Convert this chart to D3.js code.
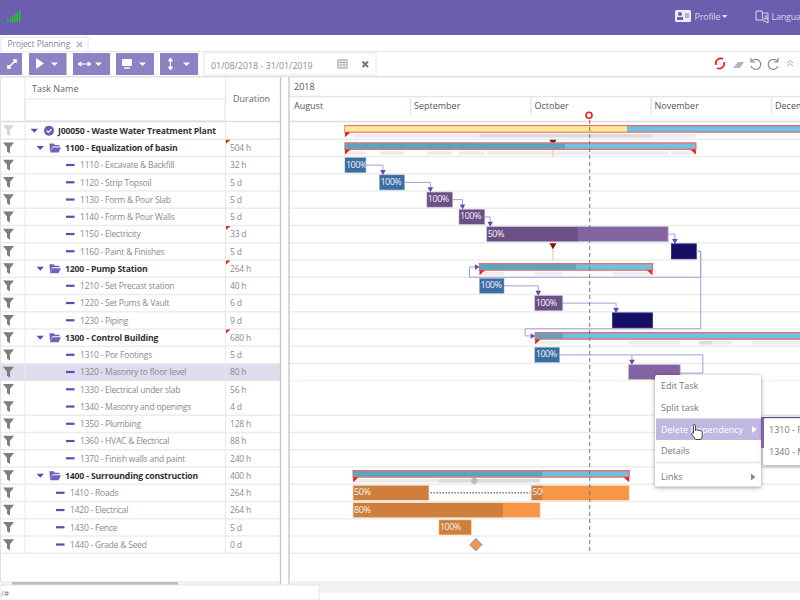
<!DOCTYPE html>
<html>
<head>
<meta charset="utf-8">
<style>
  body { margin: 0; background: #fff; overflow: hidden; }
  text { font-family: "Open Sans", sans-serif; }
</style>
<script src="https://cdn.jsdelivr.net/npm/d3@7"></script>
</head>
<body>
<div id="gantt"></div>
<script>
// Data (days are counted from 1 August 2018)
// ================================
const rowCodes = ["J00050", "1100", "1110", "1120", "1130", "1140", "1150", "1160",
  "1200", "1210", "1220", "1230", "1300", "1310", "1320", "1330", "1340", "1350",
  "1360", "1370", "1400", "1410", "1420", "1430", "1440"];
const rowNames = ["Waste Water Treatment Plant", "Equalization of basin", "Excavate & Backfill",
  "Strip Topsoil", "Form & Pour Slab", "Form & Pour Walls", "Electricity", "Paint & Finishes",
  "Pump Station", "Set Precast station", "Set Pums & Vault", "Piping", "Control Building",
  "Por Footings", "Masonry to floor level", "Electrical under slab", "Masonry and openings",
  "Plumbing", "HVAC & Electrical", "Finish walls and paint", "Surrounding construction",
  "Roads", "Electrical", "Fence", "Grade & Seed"];
const rowDurations = ["", "504 h", "32 h", "5 d", "5 d", "5 d", "33 d", "5 d", "264 h", "40 h",
  "6 d", "9 d", "680 h", "5 d", "80 h", "56 h", "4 d", "128 h", "88 h", "240 h", "400 h",
  "264 h", "264 h", "5 d", "0 d"];
const flaggedDurations = ["1100", "1150", "1200", "1300"];

const monthNames = ["August", "September", "October", "November", "December"];
const monthStarts = [0, 31, 61, 92, 122];

// task bars, the 1410 task is split in two pieces
const barCodes = ["1110", "1120", "1130", "1140", "1150", "1160", "1210", "1220", "1230",
  "1310", "1320", "1410", "1410", "1420", "1430"];
const barStarts = [14.2, 23.1, 35.2, 43.2, 50.1, 97.2, 48.3, 62.1, 82.2, 62.1, 86.3, 16.3, 61.2, 16.3, 38.2];
const barEnds = [19.6, 29.6, 41.6, 49.6, 96.4, 103.4, 54.4, 69.3, 92.5, 68.5, 99.4, 35.7, 86.5, 63.5, 46.3];
const barDone = [19.6, 29.6, 41.6, 49.6, 73.3, 97.2, 54.4, 69.3, 82.2, 68.5, 86.3, 35.7, 64.2, 54.2, 46.3];
const barLabels = ["100%", "100%", "100%", "100%", "50%", "", "100%", "100%", "", "100%", "", "50%", "50%", "80%", "100%"];

// summary bars
const summaryCodes = ["J00050", "1100", "1200", "1300", "1400"];
const summaryStarts = [14.2, 14.2, 48.3, 62.2, 16.3];
const summaryEnds = [140, 103.3, 92.5, 140, 86.5];
const summaryDone = [85.9, 69.9, 72.7, 69.4, 64];

// grey plan bands under the summary bars
const bandCodes = ["J00050", "J00050", "1100", "1100", "1100", "1100", "1100", "1100",
  "1200", "1200", "1200", "1300", "1300", "1300", "1300", "1300", "1400", "1400"];
const bandStarts = [16.3, 48.3, 14.2, 23.1, 35.2, 43.2, 50.1, 97.2, 48.3, 62.1, 82.2, 62.1, 86.3, 104.1, 104.1, 117.2, 16.3, 38.2];
const bandEnds = [103.3, 92.5, 19.6, 29.6, 41.6, 49.6, 96.4, 103.4, 54.4, 69.3, 92.5, 68.5, 99.4, 107.3, 112.3, 140, 63.5, 63.5];

// links between tasks
const linkFrom = ["1110", "1120", "1130", "1140", "1150", "1210", "1220", "1310"];
const linkTo = ["1120", "1130", "1140", "1150", "1160", "1220", "1230", "1320"];

const todayDay = 76.3;
const deadlineDay = 66.8;
const deadlineRows = ["1100", "1160"];
const milestoneCode = "1440";
const milestoneDay = 47.4;
const menuItems = ["Edit Task", "Split task", "Delete Dependency", "Details", "Links"];
const subMenuItems = ["1310 - R", "1340 - M"];

// Set up page
// ================================
const svg = d3.select("#gantt")
  .append("svg")
  .attr("width", 800)
  .attr("height", 600)
  .style("display", "block");

const defs = svg.append("defs");
defs.append("clipPath").attr("id", "chartClip")
  .append("rect").attr("x", 290).attr("y", 90).attr("width", 510).attr("height", 470);

// Create scaling
// ================================
const xScale = d3.scaleLinear()
  .domain([0, 31, 61, 92, 122, 153])
  .range([290, 410, 530.5, 650.5, 771, 891]);

const yScale = d3.scaleBand()
  .domain(rowCodes)
  .range([122, 553.25]);

const rowMid = code => yScale(code) + yScale.bandwidth() / 2;

const depthOf = code => code === "J00050" ? 0 : summaryCodes.includes(code) ? 1 : code[1] === "4" ? 2 : 3;

// Styles per task
const taskColors = {
  blue: { done: "#3c6ea3", todo: "#3c6ea3", edge: "#a9bfd8" },
  purple: { done: "#6b5086", todo: "#8364a3", edge: "#c9bcd8" },
  navy: { done: "#150f66", todo: "#150f66", edge: "#2b2680" },
  orange: { done: "#cf7f3b", todo: "#f79646", edge: "#f4dcc5" }
};
const colorOf = code => {
  if (code[1] === "4") return taskColors.orange;
  if (["1110", "1120", "1210", "1310"].includes(code)) return taskColors.blue;
  if (["1160", "1230"].includes(code)) return taskColors.navy;
  return taskColors.purple;
};

// Page header and toolbar
// ================================
svg.append("rect").attr("width", 800).attr("height", 35).attr("fill", "#6b5eae");
svg.append("rect").attr("y", 51).attr("width", 800).attr("height", 1).attr("fill", "#e6e6e6");
svg.append("rect").attr("y", 76).attr("width", 800).attr("height", 1.5).attr("fill", "#e2e2e2");

d3.range(6).forEach(i => {
  svg.append("rect")
    .attr("x", 7 + i * 2.4).attr("y", 22 - (i + 1) * 1.9)
    .attr("width", 1.4).attr("height", (i + 1) * 1.9)
    .attr("fill", "#1fd11f");
});

svg.append("rect").attr("x", 675).attr("y", 10).attr("width", 16).attr("height", 12).attr("rx", 1.5).attr("fill", "#eeeaf8");
svg.append("circle").attr("cx", 680).attr("cy", 14).attr("r", 2).attr("fill", "#6b5eae");
svg.append("rect").attr("x", 677).attr("y", 17).attr("width", 6).attr("height", 3).attr("fill", "#6b5eae");
svg.append("rect").attr("x", 685).attr("y", 13).attr("width", 4).attr("height", 5).attr("fill", "#b5aed8");
svg.append("text").attr("x", 694.5).attr("y", 19.5).attr("font-size", 9).attr("letter-spacing", -0.2).attr("fill", "#d9d5ec").text("Profile");
svg.append("path").attr("d", "M722 15h5.5l-2.75 3z").attr("fill", "#e6e3f3");
svg.append("path").attr("d", "M756 11h6l1 9h-7zM763 13h5v10l-3-2h-2").attr("fill", "none").attr("stroke", "#d9d5ec");
svg.append("text").attr("x", 764).attr("y", 20).attr("font-size", 6.5).attr("fill", "#e6e3f3").text("A");
svg.append("text").attr("x", 771.5).attr("y", 19.5).attr("font-size", 9).attr("letter-spacing", -0.2).attr("fill", "#d9d5ec").text("Language");

svg.append("path").attr("d", "M1 51.5V37h87v14").attr("fill", "#fff").attr("stroke", "#e2e2e2");
svg.append("text").attr("x", 7.5).attr("y", 47).attr("font-size", 8.5).attr("letter-spacing", -0.1).attr("fill", "#8a8a8a").text("Project Planning");
svg.append("path").attr("d", "M77 42l5 5M82 42l-5 5").attr("stroke", "#b5b5b5").attr("stroke-width", 1.5);

const toolButtons = [[0, 22], [29, 37.5], [73, 37], [116, 38], [160, 38]];
svg.selectAll(".toolButton")
  .data(toolButtons)
  .enter()
  .append("rect")
  .attr("class", "toolButton")
  .attr("x", d => d[0]).attr("y", 53)
  .attr("width", d => d[1]).attr("height", 22)
  .attr("fill", "#8d82c4");
svg.append("path").attr("d", "M8 68l8-8M13 60h3v3M8 65v3h3").attr("stroke", "#fff").attr("fill", "none").attr("stroke-width", 1.6);
svg.append("path").attr("d", "M36 58v11l8-5.5z").attr("fill", "#fff");
svg.append("path").attr("d", "M78 64h13M78 64l3-2v4zM91 64l-3-2v4z").attr("stroke", "#fff").attr("fill", "#fff");
svg.append("rect").attr("x", 122).attr("y", 59).attr("width", 10).attr("height", 7).attr("rx", 1).attr("fill", "#fff");
svg.append("path").attr("d", "M124 68h6").attr("stroke", "#fff").attr("stroke-width", 1.4);
svg.append("path").attr("d", "M170.5 59v10M170.5 58l-2 3h4zM170.5 70l-2-3h4z").attr("stroke", "#fff").attr("fill", "#fff");
[[51], [95], [139], [183]].forEach(d => {
  svg.append("path").attr("d", `M${d[0]} 62.5h7l-3.5 3.5z`).attr("fill", "#fff");
});

svg.append("rect").attr("x", 204).attr("y", 53).attr("width", 172).attr("height", 22)
  .attr("fill", "#fff").attr("stroke", "#e6e6e6");
svg.append("text").attr("x", 211).attr("y", 68.5).attr("font-size", 8.9).attr("fill", "#8d8d8d").text("01/08/2018 - 31/01/2019");
svg.append("rect").attr("x", 338).attr("y", 60).attr("width", 9).attr("height", 8).attr("fill", "none").attr("stroke", "#9a9a9a");
svg.append("path").attr("d", "M338 62.5h9M341 60v8M344 60v8M338 65h9").attr("stroke", "#9a9a9a").attr("stroke-width", 0.7);
svg.append("path").attr("d", "M362.5 61.5l5.5 5.5M368 61.5l-5.5 5.5").attr("stroke", "#777").attr("stroke-width", 2);

svg.append("path").attr("d", "M716 65a5 5 0 0 1 7-6M724 62a5 5 0 0 1-7 6").attr("stroke", "#f31b1b").attr("stroke-width", 1.6).attr("fill", "none");
svg.append("path").attr("d", "M733 68l5-6h6l-4 6z").attr("fill", "#b5b5b5");
svg.append("path").attr("d", "M752 61a5 5 0 1 1-1 5M751 58v4h4").attr("stroke", "#8a8a8a").attr("stroke-width", 1.2).attr("fill", "none");
svg.append("path").attr("d", "M777 61a5 5 0 1 0 1 5M778 58v4h-4").attr("stroke", "#8a8a8a").attr("stroke-width", 1.2).attr("fill", "none");
svg.append("path").attr("d", "M787 63l3-2.5 3 2.5M787 66l3-2.5 3 2.5").attr("stroke", "#aaa").attr("fill", "none");

// Task table
// ================================
const headerGroup = svg.append("g");
headerGroup.append("text").attr("x", 32).attr("y", 91.5).attr("font-size", 9).attr("fill", "#666").text("Task Name");
headerGroup.append("text").attr("x", 233).attr("y", 102).attr("font-size", 9).attr("fill", "#666").text("Duration");
headerGroup.append("rect").attr("x", 25).attr("y", 99).attr("width", 200).attr("height", 22).attr("fill", "#fff").attr("stroke", "#e4e4e4");

// row highlight and separators
svg.append("rect")
  .attr("x", 1).attr("y", yScale("1320"))
  .attr("width", 279).attr("height", yScale.bandwidth())
  .attr("fill", "#dfdcee");
svg.append("rect").attr("x", 290).attr("y", yScale("1320") - 0.5).attr("width", 510).attr("height", 1).attr("fill", "#faf0d9");
svg.append("rect").attr("x", 290).attr("y", yScale("1330") - 0.5).attr("width", 510).attr("height", 1).attr("fill", "#faf0d9");

svg.append("g")
  .selectAll("line")
  .data(rowCodes.filter(d => d !== "1330" && d !== "1320"))
  .enter()
  .append("line")
  .attr("x1", 1).attr("x2", 800)
  .attr("y1", d => yScale(d) + yScale.bandwidth())
  .attr("y2", d => yScale(d) + yScale.bandwidth())
  .attr("stroke", "#ececec")
  .attr("stroke-width", 1.3);

svg.append("line").attr("x1", 0).attr("x2", 800).attr("y1", 121.5).attr("y2", 121.5).attr("stroke", "#dcdcdc").attr("stroke-width", 1.6);
svg.append("rect").attr("x", 0).attr("y", 77).attr("width", 1).attr("height", 505).attr("fill", "#e2e2e2");
svg.append("line").attr("x1", 25).attr("x2", 25).attr("y1", 77).attr("y2", 553).attr("stroke", "#e8e8e8");
svg.append("line").attr("x1", 225.5).attr("x2", 225.5).attr("y1", 77).attr("y2", 553).attr("stroke", "#e8e8e8");
svg.append("rect").attr("x", 281).attr("y", 77).attr("width", 8).attr("height", 510).attr("fill", "#fff");
svg.append("line").attr("x1", 280.5).attr("x2", 280.5).attr("y1", 77).attr("y2", 585).attr("stroke", "#c4c4c4").attr("stroke-width", 1.3);
svg.append("line").attr("x1", 289).attr("x2", 289).attr("y1", 77).attr("y2", 585).attr("stroke", "#c4c4c4").attr("stroke-width", 1.3);

const rows = svg.append("g")
  .selectAll("g")
  .data(rowCodes)
  .enter()
  .append("g")
  .attr("transform", d => `translate(0, ${rowMid(d)})`);

// filter funnels
rows.append("path")
  .attr("d", "M3-5.5h11l-4 5v6l-3-2v-4z")
  .attr("fill", d => d === "J00050" ? "#d6d6d6" : "#7d7d7d");

// tree icons
rows.filter(d => depthOf(d) < 2)
  .append("path")
  .attr("d", d => d === "J00050" ? "M30.5-2h7.5l-3.75 4z" : "M36.5-2h7.5l-3.75 4z")
  .attr("fill", "#5b4db0");
rows.filter(d => d === "J00050")
  .append("circle").attr("cx", 49).attr("cy", 0).attr("r", 5).attr("fill", "#6a5cb8");
rows.filter(d => d === "J00050")
  .append("path").attr("d", "M46.6 0l1.8 1.8 3-3.2").attr("stroke", "#fff").attr("stroke-width", 1.2).attr("fill", "none");
rows.filter(d => depthOf(d) === 1)
  .append("path")
  .attr("d", "M49.5-4.5h4l1.5 1.5h4.5v1.5h-7l-2.5 5.5zM52.5-.5h8.5l-2.5 5h-8.5z")
  .attr("fill", "#6f62bd");
rows.filter(d => depthOf(d) > 1)
  .append("rect")
  .attr("x", d => depthOf(d) === 3 ? 66 : 56)
  .attr("y", -1.2)
  .attr("width", 8.5).attr("height", 2.2)
  .attr("fill", "#5b4db0");

const taskLabelX = [58, 65, 70, 80];
rows.append("text")
  .attr("x", d => taskLabelX[depthOf(d)])
  .attr("y", 3.2)
  .attr("font-size", d => depthOf(d) < 2 ? 8.7 : 8.5)
  .attr("letter-spacing", d => depthOf(d) < 2 ? -0.18 : -0.22)
  .attr("font-weight", d => depthOf(d) < 2 ? 700 : 400)
  .attr("fill", d => depthOf(d) < 2 ? "#333" : "#8a8a8a")
  .text((d, i) => `${d} - ${rowNames[i]}`);

rows.append("text")
  .attr("x", 230)
  .attr("y", 3.2)
  .attr("font-size", 8.5)
  .attr("letter-spacing", -0.2)
  .attr("fill", "#8a8a8a")
  .text((d, i) => rowDurations[i]);

rows.filter(d => flaggedDurations.includes(d))
  .append("path")
  .attr("d", `M226 ${-yScale.bandwidth() / 2 + 0.5}h4.5l-4.5 4z`)
  .attr("fill", "#d82a1e");

// Time header, months through the library's axis
// ================================
svg.append("text").attr("x", 294).attr("y", 89.5).attr("font-size", 9).attr("fill", "#555").text("2018");
svg.append("line").attr("x1", 290).attr("x2", 800).attr("y1", 96.5).attr("y2", 96.5).attr("stroke", "#e4e4e4").attr("stroke-width", 1.3);

const monthAxis = d3.axisBottom(xScale)
  .tickValues(monthStarts)
  .tickSize(19)
  .tickFormat((d, i) => monthNames[i]);

const monthGroup = svg.append("g")
  .attr("transform", "translate(0, 96)")
  .call(monthAxis);
monthGroup.select(".domain").remove();
monthGroup.selectAll("line").attr("stroke", d => d === 0 ? "none" : "#e4e4e4").attr("stroke-width", 1.3);
monthGroup.selectAll("text")
  .attr("text-anchor", "start")
  .attr("x", 3.5)
  .attr("y", 5)
  .attr("dy", "8")
  .attr("font-size", 9)
  .attr("font-family", "Open Sans")
  .attr("fill", "#555");

// Gantt marks
// ================================
const chart = svg.append("g").attr("clip-path", "url(#chartClip)");

// grey plan bands
chart.append("g")
  .selectAll("rect")
  .data(bandCodes)
  .enter()
  .append("rect")
  .attr("x", (d, i) => xScale(bandStarts[i]))
  .attr("y", d => rowMid(d) + 3.2)
  .attr("width", (d, i) => xScale(bandEnds[i]) - xScale(bandStarts[i]))
  .attr("height", 3.8)
  .attr("fill", "#000")
  .attr("opacity", 0.07);

// deadline markers
const deadlines = chart.append("g")
  .selectAll("g")
  .data(deadlineRows)
  .enter()
  .append("g")
  .attr("transform", d => `translate(${xScale(deadlineDay)}, ${yScale(d)})`);
deadlines.append("line").attr("y1", 2).attr("y2", yScale.bandwidth()).attr("stroke", "#eab9b9");
deadlines.append("path").attr("d", "M-3.5 0.5h7l-3.5 6z").attr("fill", "#8c0f0f");

// summary bars
const summaries = chart.append("g")
  .selectAll("g")
  .data(summaryCodes)
  .enter()
  .append("g")
  .attr("transform", d => `translate(0, ${rowMid(d) - 5})`);

summaries.append("rect")
  .attr("x", (d, i) => xScale(summaryStarts[i]))
  .attr("y", 0)
  .attr("width", (d, i) => xScale(summaryEnds[i]) - xScale(summaryStarts[i]))
  .attr("height", 6.5)
  .attr("fill", "#6cc2e3")
  .attr("stroke", "#f06a6a")
  .attr("stroke-width", 1.3);
summaries.append("rect")
  .attr("x", (d, i) => xScale(summaryStarts[i]))
  .attr("y", 0.5)
  .attr("width", (d, i) => xScale(summaryDone[i]) - xScale(summaryStarts[i]))
  .attr("height", 5.5)
  .attr("fill", d => d === "J00050" ? "#ffe794" : "#5fa2bb");
summaries.append("path")
  .attr("d", (d, i) => `M${xScale(summaryStarts[i])} 6.5h5.5l-5.5 5z`)
  .attr("fill", "#f31b1b");
summaries.filter((d, i) => summaryEnds[summaryCodes.indexOf(d)] < 140)
  .append("path")
  .attr("d", d => {
    const end = xScale(summaryEnds[summaryCodes.indexOf(d)]);
    return `M${end} 6.5h-5.5l5.5 5z`;
  })
  .attr("fill", "#f31b1b");

// circle under the 1400 bar
chart.append("circle")
  .attr("cx", xScale(47))
  .attr("cy", rowMid("1400") + 5.2)
  .attr("r", 3.2)
  .attr("fill", "#bdbdbd");

// dotted line joining the split task
chart.append("line")
  .attr("x1", xScale(barEnds[11]) + 1.5)
  .attr("x2", xScale(barStarts[12]) - 1)
  .attr("y1", rowMid("1410"))
  .attr("y2", rowMid("1410"))
  .attr("stroke", "#333")
  .attr("stroke-dasharray", "1.5 1.5");

// task bars
barCodes.forEach((code, i) => {
  defs.append("clipPath").attr("id", `barClip${i}`)
    .append("rect")
    .attr("x", xScale(barStarts[i]))
    .attr("y", rowMid(code) - 8)
    .attr("width", xScale(barDone[i]) - xScale(barStarts[i]))
    .attr("height", 16);
});

const bars = chart.append("g")
  .selectAll("g")
  .data(barCodes)
  .enter()
  .append("g")
  .attr("transform", d => `translate(0, ${rowMid(d) - 7.5})`);

bars.append("rect")
  .attr("x", (d, i) => xScale(barStarts[i]))
  .attr("width", (d, i) => xScale(barEnds[i]) - xScale(barStarts[i]))
  .attr("height", 15)
  .attr("fill", d => colorOf(d).todo)
  .attr("stroke", d => colorOf(d).edge)
  .attr("stroke-width", 0.8);

bars.append("rect")
  .attr("x", (d, i) => xScale(barStarts[i]) + 0.4)
  .attr("y", 0.4)
  .attr("width", (d, i) => Math.max(0, xScale(barDone[i]) - xScale(barStarts[i]) - 0.8))
  .attr("height", 14.2)
  .attr("fill", d => colorOf(d).done);

const barLabelGroups = chart.append("g")
  .selectAll("g")
  .data(barCodes)
  .enter()
  .append("g")
  .attr("clip-path", (d, i) => `url(#barClip${i})`);

barLabelGroups.append("text")
  .attr("x", (d, i) => xScale(barStarts[i]) + 1)
  .attr("y", d => rowMid(d) + 2.5)
  .attr("font-size", 9)
  .attr("letter-spacing", -0.5)
  .attr("fill", "#f4f1f7")
  .text((d, i) => barLabels[i]);

// milestone
chart.append("path")
  .attr("transform", `translate(${xScale(milestoneDay)}, ${rowMid(milestoneCode)})`)
  .attr("d", "M0-6L6 0 0 6-6 0z")
  .attr("fill", "#f79646")
  .attr("stroke", "#7d7ac4");

// links
const linkGroup = chart.append("g").attr("fill", "none").attr("stroke", "#a69dd8");
const firstBar = code => barCodes.indexOf(code);

linkFrom.forEach((from, i) => {
  const a = firstBar(from);
  const b = firstBar(linkTo[i]);
  const targetX = xScale(barStarts[b]) + 3.5;
  const targetTop = rowMid(linkTo[i]) - 8;
  linkGroup.append("path")
    .attr("d", d3.line()([[xScale(barEnds[a]), rowMid(from)], [targetX, rowMid(from)], [targetX, targetTop - 4]]));
  chart.append("path")
    .attr("d", `M${targetX - 2.8} ${targetTop - 4.5}h5.6l-2.8 5z`)
    .attr("fill", "#5b4bb5");
});

// 1160 feeds the two summaries behind it, so these go round the rows
const laneX = xScale(barEnds[firstBar("1160")]) + 4.4;
const backLinks = ["1200", "1300"];
backLinks.forEach(target => {
  const s = summaryCodes.indexOf(target);
  const startX = xScale(summaryStarts[s]);
  const rowBottom = yScale(target) + yScale.bandwidth();
  const laneY = target === "1200" ? rowBottom : yScale(target) - 0.2;
  const targetY = rowMid(target) - 1.7;
  linkGroup.append("path")
    .attr("d", d3.line()([[xScale(barEnds[firstBar("1160")]), rowMid("1160")], [laneX, rowMid("1160")],
      [laneX, laneY], [startX - 10, laneY], [startX - 10, targetY], [startX - 4, targetY]]));
  chart.append("path")
    .attr("d", `M${startX - 4.5} ${targetY - 2.8}v5.6l4.5-2.8z`)
    .attr("fill", "#5b4bb5");
});

// 1320 comes back up to the 1310 link line
linkGroup.append("path")
  .attr("d", d3.line()([[xScale(barEnds[firstBar("1320")]), rowMid("1320") + 1],
    [xScale(barEnds[firstBar("1320")]) + 22.6, rowMid("1320") + 1],
    [xScale(barEnds[firstBar("1320")]) + 22.6, rowMid("1310")]]))
  .attr("stroke", "#a69dd8");
linkGroup.append("path")
  .attr("d", d3.line()([[xScale(barStarts[firstBar("1320")]) + 3.5, rowMid("1310")],
    [xScale(barEnds[firstBar("1320")]) + 22.6, rowMid("1310")]]));

// today line and its pin
chart.append("line")
  .attr("x1", xScale(todayDay)).attr("x2", xScale(todayDay))
  .attr("y1", 120).attr("y2", 553)
  .attr("stroke", "#777")
  .attr("stroke-dasharray", "4 3");
svg.append("circle")
  .attr("cx", xScale(todayDay) - 0.7).attr("cy", 115.3)
  .attr("r", 3)
  .attr("fill", "#fff")
  .attr("stroke", "#f31b1b")
  .attr("stroke-width", 1.6);

// Scroll bars and status box
// ================================
svg.append("rect").attr("x", 290).attr("y", 581).attr("width", 510).attr("height", 12).attr("fill", "#f1f1f1");
svg.append("rect").attr("x", 1).attr("y", 581).attr("width", 279).attr("height", 5).attr("fill", "#f1f1f1");
svg.append("rect").attr("x", 12).attr("y", 582).attr("width", 166).attr("height", 4).attr("fill", "#bbb");
svg.append("rect").attr("x", 0).attr("y", 585).attr("width", 319).attr("height", 15)
  .attr("fill", "#fff").attr("stroke", "#e6e6e6");
svg.append("text").attr("x", 1).attr("y", 596).attr("font-size", 8).attr("fill", "#777").text("/#");

// Context menu
// ================================
const menu = svg.append("g");
menu.append("rect")
  .attr("x", 655).attr("y", 375).attr("width", 106).attr("height", 111.5).attr("rx", 2)
  .attr("fill", "#fff")
  .style("filter", "drop-shadow(0 1px 2px rgba(0,0,0,.4))");
menu.append("rect").attr("x", 656).attr("y", 418.5).attr("width", 105).attr("height", 21.5).attr("fill", "#bfb8e0");
menu.append("line").attr("x1", 656).attr("x2", 760).attr("y1", 462.5).attr("y2", 462.5).attr("stroke", "#e6e6e6").attr("stroke-width", 1.3);

const menuY = [386, 408, 430, 451, 477];
menu.selectAll("text")
  .data(menuItems)
  .enter()
  .append("text")
  .attr("x", 661)
  .attr("y", (d, i) => menuY[i] + 3.2)
  .attr("font-size", 9)
  .attr("fill", (d, i) => i === 2 ? "#fff" : "#777")
  .text(d => d);
menu.append("path").attr("d", "M752 426v7l5-3.5z").attr("fill", "#fff");
menu.append("path").attr("d", "M751 473.5v7l4.5-3.5z").attr("fill", "#888");

const subMenu = svg.append("g");
subMenu.append("rect")
  .attr("x", 763).attr("y", 417).attr("width", 50).attr("height", 48).attr("rx", 2)
  .attr("fill", "#fff")
  .style("filter", "drop-shadow(0 1px 2px rgba(0,0,0,.4))");
subMenu.append("rect").attr("x", 761).attr("y", 417).attr("width", 3).attr("height", 31).attr("fill", "#8364a3");
subMenu.append("rect").attr("x", 762).attr("y", 417).attr("width", 38).attr("height", 1.2).attr("fill", "#6b5086");
subMenu.selectAll(".subItem")
  .data(subMenuItems)
  .enter()
  .append("text")
  .attr("class", "subItem")
  .attr("x", 769)
  .attr("y", (d, i) => 433.2 + i * 21.5)
  .attr("font-size", 9)
  .attr("fill", "#777")
  .text(d => d);

// hand cursor
svg.append("path")
  .attr("d", "M693 426c0-2 2.5-2 2.5 0v4.5c.5-1.2 2.3-1 2.4.2.6-1 2.2-.8 2.3.4.8-.8 2-.3 2 .9v3.5c0 2-1 3-1.5 4h-5c-.8-1.5-3.2-3.5-4-5.5-.4-1.2 1-1.8 1.8-.8V426z")
  .attr("fill", "#fff")
  .attr("stroke", "#222")
  .attr("stroke-width", 0.8);
</script>
</body>
</html>
